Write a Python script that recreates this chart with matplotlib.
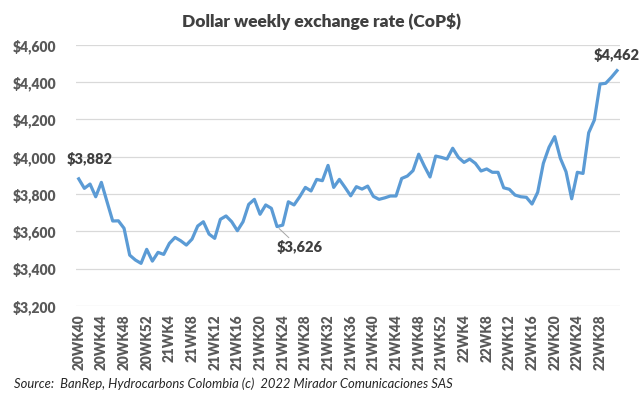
import matplotlib
matplotlib.use("Agg")
import matplotlib.pyplot as plt

# weekly COP/USD rate, 20WK40 .. 22WK31
years = ["20", "21", "22"]
first_week = [40, 1, 1]
last_week = [52, 52, 31]

rates = [3882, 3831, 3854, 3786, 3863, 3759, 3656, 3657, 3617, 3473,
         3447, 3429, 3504, 3441, 3488, 3477, 3536, 3568, 3550, 3527,
         3559, 3629, 3652, 3586, 3563, 3665, 3683, 3652, 3604, 3652,
         3745, 3772, 3692, 3742, 3724, 3626, 3634, 3759, 3742, 3786,
         3836, 3817, 3879, 3872, 3954, 3836, 3879, 3836, 3791, 3840,
         3827, 3843, 3788, 3772, 3780, 3790, 3790, 3884, 3897, 3926,
         4014, 3950, 3892, 4004, 3997, 3988, 4046, 3997, 3970, 3988,
         3965, 3924, 3935, 3917, 3917, 3834, 3826, 3795, 3786, 3783,
         3747, 3810, 3965, 4051, 4108, 3992, 3920, 3775, 3917, 3911,
         4129, 4197, 4390, 4394, 4426, 4462]

# weeks that carry a data label
labelled_low = "21WK23"

weeks = []
for y, a, b in zip(years, first_week, last_week):
    for w in range(a, b + 1):
        weeks.append(y + "WK" + str(w))

x = list(range(len(rates)))
font = "Lato"
grey = "#595959"

fig = plt.figure(figsize=(6.43, 3.97), dpi=100)
ax = fig.add_axes([0.118, 0.229, 0.846, 0.658])

ax.plot(x, rates, color="#5B9BD5", linewidth=2.3, solid_joinstyle="round")

ax.set_xlim(-0.5, len(rates) - 0.5)
ax.set_ylim(3200, 4600)
ax.set_yticks(range(3200, 4601, 200))
ax.set_yticklabels(["${:,}".format(v) for v in range(3200, 4601, 200)],
                   fontfamily=font, fontweight="heavy", fontsize=10, color=grey)
ax.set_xticks(x[::4])
ax.set_xticklabels(weeks[::4], rotation=90, fontfamily=font,
                   fontweight="heavy", fontsize=9.8, color=grey)
ax.tick_params(length=0, pad=6)
ax.tick_params(axis="y", pad=14)
ax.grid(axis="y", color="#D9D9D9", linewidth=0.9)
ax.set_axisbelow(True)
for s in ax.spines.values():
    s.set_visible(False)

# data labels
lab = dict(fontfamily=font, fontweight="heavy", fontsize=10.5, color="#404040")
ax.annotate("${:,}".format(rates[0]), (0, rates[0]), xytext=(8, 9),
            textcoords="offset points", ha="center", va="bottom", **lab)
ax.annotate("${:,}".format(rates[-1]), (x[-1], rates[-1]), xytext=(0, 6),
            textcoords="offset points", ha="center", va="bottom", **lab)
imin = weeks.index(labelled_low)
ax.annotate("${:,}".format(rates[imin]), (imin, rates[imin]), xytext=(16, -10),
            textcoords="offset points", ha="center", va="top",
            arrowprops=dict(arrowstyle="-", color="#A6A6A6", lw=0.7,
                            shrinkA=0, shrinkB=2), **lab)

fig.text(0.5, 0.945, "Dollar weekly exchange rate (CoP$)", ha="center",
         va="center", fontfamily=font, fontweight="heavy", fontsize=12.5,
         color="#404040")
fig.text(0.022, 0.033,
         "Source:  BanRep, Hydrocarbons Colombia (c)  2022 Mirador Comunicaciones SAS",
         ha="left", va="center", fontfamily=font, fontstyle="italic",
         fontsize=9.4, color="#262626")

fig.savefig("out.png", dpi=100)
